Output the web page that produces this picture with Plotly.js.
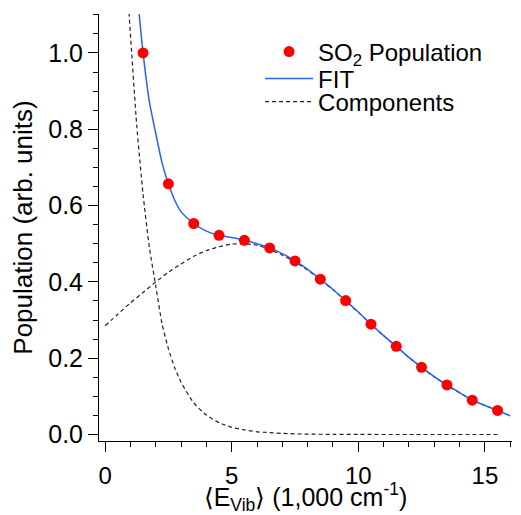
<!DOCTYPE html>
<html>
<head>
<meta charset="utf-8">
<script src="https://cdn.plot.ly/plotly-3.0.1.min.js"></script>
<style>html,body{margin:0;padding:0;background:#fff;}#chart{width:521px;height:515px;}</style>
</head>
<body>
<div id="chart"></div>
<script>
// Measured populations
var popX = [1.5, 2.5, 3.5, 4.5, 5.5, 6.5, 7.5, 8.5, 9.5, 10.5, 11.5, 12.5, 13.5, 14.5, 15.5];
var popY = [1.0, 0.657, 0.553, 0.522, 0.509, 0.489, 0.455, 0.407, 0.351, 0.289, 0.231, 0.176, 0.130, 0.090, 0.063];

// Fit curve
var fitX = [1.3, 1.35, 1.5, 1.75, 2.0, 2.25, 2.5, 2.75, 3.0, 3.5, 4.0, 4.5, 5.0, 5.5, 6.0, 6.5, 7.0, 7.5, 8.0, 8.5, 9.0, 9.5, 10.0, 10.5, 11.0, 11.5, 12.0, 12.5, 13.0, 13.5, 14.0, 14.5, 15.0, 15.5, 16.0];
var fitY = [1.14, 1.10, 1.00, 0.872, 0.79, 0.712, 0.657, 0.614, 0.584, 0.553, 0.533, 0.522, 0.516, 0.509, 0.500, 0.489, 0.474, 0.455, 0.433, 0.407, 0.380, 0.351, 0.321, 0.289, 0.259, 0.231, 0.202, 0.176, 0.152, 0.130, 0.110, 0.090, 0.076, 0.063, 0.049];

// Component 1: fast decay
var decX = [0.9, 0.95, 1.0, 1.25, 1.5, 1.75, 2.0, 2.25, 2.5, 2.75, 3.0, 3.5, 4.0, 4.5, 5.0, 5.5, 6.0, 6.5, 7.0, 8.0, 9.0, 10.0, 12.0, 15.6];
var decY = [1.16, 1.10, 1.05, 0.81, 0.63, 0.49, 0.39, 0.29, 0.225, 0.175, 0.137, 0.083, 0.051, 0.031, 0.019, 0.012, 0.007, 0.005, 0.003, 0.001, 0.0005, 0.0002, 0.0, 0.0];

// Component 2: broad peak
var gX = [0, 0.5, 1, 1.5, 2, 2.5, 3, 3.5, 4, 4.5, 5, 5.5, 6, 6.5, 7, 7.5, 8, 8.5, 9, 9.5, 10, 10.5, 11, 11.5, 12, 12.5, 13, 13.5, 14, 14.5, 15, 15.6];
var gY = [0.285, 0.315, 0.345, 0.372, 0.400, 0.425, 0.447, 0.467, 0.482, 0.492, 0.499, 0.500, 0.496, 0.485, 0.470, 0.452, 0.431, 0.406, 0.379, 0.350, 0.320, 0.289, 0.259, 0.231, 0.202, 0.175, 0.151, 0.129, 0.109, 0.090, 0.076, 0.061];

var FONT = 'Liberation Sans, Arial, Helvetica, sans-serif';

var traces = [
  {x: decX, y: decY, mode: 'lines', name: 'Components', legend: 'legend3',
   line: {color: '#222', width: 1.2, dash: '4px,3px', shape: 'spline', smoothing: 0.6}},
  {x: gX, y: gY, mode: 'lines', name: 'Components', showlegend: false,
   line: {color: '#222', width: 1.2, dash: '4px,3px', shape: 'spline', smoothing: 0.6}},
  {x: fitX, y: fitY, mode: 'lines', name: 'FIT', legend: 'legend2',
   line: {color: '#2563f5', width: 1.5, shape: 'spline', smoothing: 0.6}},
  {x: popX, y: popY, mode: 'markers', name: 'SO<sub>2</sub> Population', legend: 'legend',
   marker: {color: '#ff0000', size: 11, line: {width: 0}}}
];

function leg(yc) {
  return {x: 0.39, y: yc, xanchor: 'left', yanchor: 'middle',
          bgcolor: 'rgba(0,0,0,0)', borderwidth: 0,
          font: {size: 24, family: FONT, color: '#000'}, itemwidth: 48};
}

var layout = {
  width: 521, height: 515,
  margin: {l: 99, r: 9, t: 14, b: 74},
  paper_bgcolor: '#fff', plot_bgcolor: '#fff',
  font: {family: FONT, color: '#000', size: 24},
  showlegend: true,
  legend: leg(0.911),
  legend2: leg(0.848),
  legend3: leg(0.794),
  xaxis: {
    range: [-0.24, 16.07], showgrid: false, zeroline: false,
    showline: true, linecolor: '#000', linewidth: 1,
    ticks: 'outside', ticklen: 10, tickwidth: 1, tickcolor: '#000',
    tick0: 0, dtick: 5, tickfont: {size: 24, family: FONT}, ticklabelstandoff: 3,
    minor: {dtick: 1, ticks: 'outside', ticklen: 5, tickcolor: '#000', tickwidth: 1, showgrid: false},
    title: {text: '\u27E8E<sub>Vib</sub>\u27E9 (1,000 cm<sup>-1</sup>)', font: {size: 25, family: FONT}, standoff: 2}
  },
  yaxis: {
    range: [-0.017, 1.102], showgrid: false, zeroline: false,
    showline: true, linecolor: '#000', linewidth: 1,
    ticks: 'outside', ticklen: 10, tickwidth: 1, tickcolor: '#000',
    tick0: 0, dtick: 0.2, tickformat: '.1f', tickfont: {size: 25, family: FONT},
    minor: {dtick: 0.05, ticks: 'outside', ticklen: 5, tickcolor: '#000', tickwidth: 1, showgrid: false},
    title: {text: 'Population (arb. units)', font: {size: 26, family: FONT}, standoff: 8}
  }
};

Plotly.newPlot('chart', traces, layout, {displayModeBar: false, staticPlot: true});
</script>
</body>
</html>
